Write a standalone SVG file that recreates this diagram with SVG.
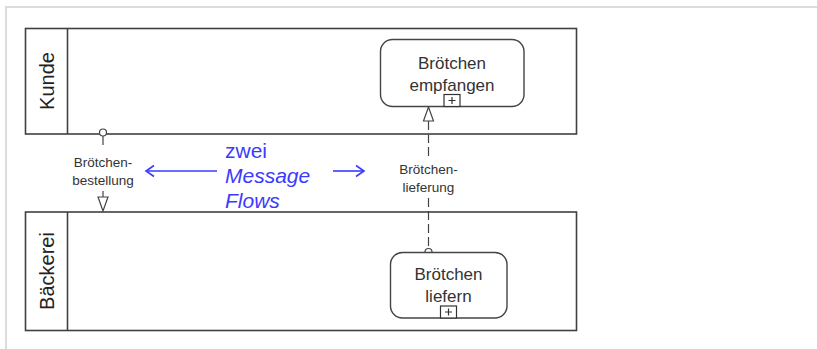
<svg xmlns="http://www.w3.org/2000/svg" width="817" height="349" viewBox="0 0 817 349">
  <style>
    .frame { stroke: #dcdcdc; stroke-width: 2; fill: none; }
    .pool { fill: #ffffff; stroke: #404040; stroke-width: 1.6; }
    .lanelabel { font-family: "Liberation Sans", Arial, sans-serif; font-size: 20px; fill: #222; text-anchor: middle; }
    .task { fill: #ffffff; stroke: #444; stroke-width: 1.4; }
    .marker { fill: #ffffff; stroke: #333; stroke-width: 1.2; }
    .tasktext { font-family: "Liberation Sans", Arial, sans-serif; font-size: 17px; fill: #333; text-anchor: middle; }
    .flow { stroke: #444; stroke-width: 1.2; fill: none; stroke-dasharray: 9 4; }
    .flowlabel { font-family: "Liberation Sans", Arial, sans-serif; font-size: 13.5px; fill: #333; text-anchor: middle; }
    .head { fill: #ffffff; stroke: #444; stroke-width: 1.2; }
    .note { font-family: "Liberation Sans", Arial, sans-serif; font-size: 21px; fill: #3a3aff; }
    .blue { stroke: #3a3aff; stroke-width: 1.6; fill: none; }
  </style>
  <rect x="0" y="0" width="817" height="349" fill="#ffffff"/>
  <path class="frame" d="M6 349 V7 H817"/>

  <g id="pool-kunde">
    <rect class="pool" x="25.5" y="28.5" width="551" height="105.5"/>
    <line class="pool" x1="67.5" y1="28.5" x2="67.5" y2="134"/>
    <text class="lanelabel" transform="translate(54 81) rotate(-90)">Kunde</text>
  </g>
  <g id="pool-baeckerei">
    <rect class="pool" x="25.5" y="212" width="551" height="118.5"/>
    <line class="pool" x1="67.5" y1="212" x2="67.5" y2="330.5"/>
    <text class="lanelabel" transform="translate(54 271) rotate(-90)">Bäckerei</text>
  </g>

  <g id="connectors">
    <g id="flow-bestellung">
      <line class="flow" x1="103" y1="136" x2="103" y2="149"/>
      <line class="flow" x1="103" y1="191" x2="103" y2="197"/>
      <circle class="head" cx="103" cy="132.5" r="3.5"/>
      <path class="head" d="M98 197 L108 197 L103 211 Z"/>
      <text class="flowlabel" x="103" y="167">Brötchen-</text>
      <text class="flowlabel" x="103" y="185">bestellung</text>
    </g>
    <g id="flow-lieferung">
      <line class="flow" x1="428.5" y1="121" x2="428.5" y2="158"/>
      <line class="flow" x1="428.5" y1="198" x2="428.5" y2="250"/>
      <circle class="head" cx="428.5" cy="252" r="3.5"/>
      <path class="head" d="M423.5 121 L433.5 121 L428.5 107 Z"/>
      <text class="flowlabel" x="428.5" y="174">Brötchen-</text>
      <text class="flowlabel" x="428.5" y="192">lieferung</text>
    </g>
    <g id="note-arrows">
      <line class="blue" x1="217" y1="171" x2="146" y2="171"/>
      <path class="blue" d="M154 165.5 L146 171 L154 176.5"/>
      <line class="blue" x1="333" y1="171" x2="364" y2="171"/>
      <path class="blue" d="M356 165.5 L364 171 L356 176.5"/>
    </g>
  </g>

  <g id="task-empfangen">
    <rect class="task" x="380.5" y="39.5" width="143.5" height="67" rx="12" ry="12"/>
    <text class="tasktext" x="452" y="69">Brötchen</text>
    <text class="tasktext" x="452" y="91">empfangen</text>
    <rect class="marker" x="444" y="94.5" width="16" height="12"/>
    <path d="M452 97 V104 M448.5 100.5 H455.5" stroke="#333" stroke-width="1.2"/>
  </g>
  <g id="task-liefern">
    <rect class="task" x="390.5" y="252.5" width="116.5" height="65.5" rx="12" ry="12"/>
    <text class="tasktext" x="448.5" y="280">Brötchen</text>
    <text class="tasktext" x="448.5" y="302">liefern</text>
    <rect class="marker" x="440.5" y="306" width="16" height="12"/>
    <path d="M448.5 308.5 V315.5 M445 312 H452" stroke="#333" stroke-width="1.2"/>
  </g>

  <g id="note">
    <text class="note" x="225" y="158">zwei</text>
    <text class="note" x="225" y="183" font-style="italic">Message</text>
    <text class="note" x="225" y="208" font-style="italic">Flows</text>
  </g>
</svg>
